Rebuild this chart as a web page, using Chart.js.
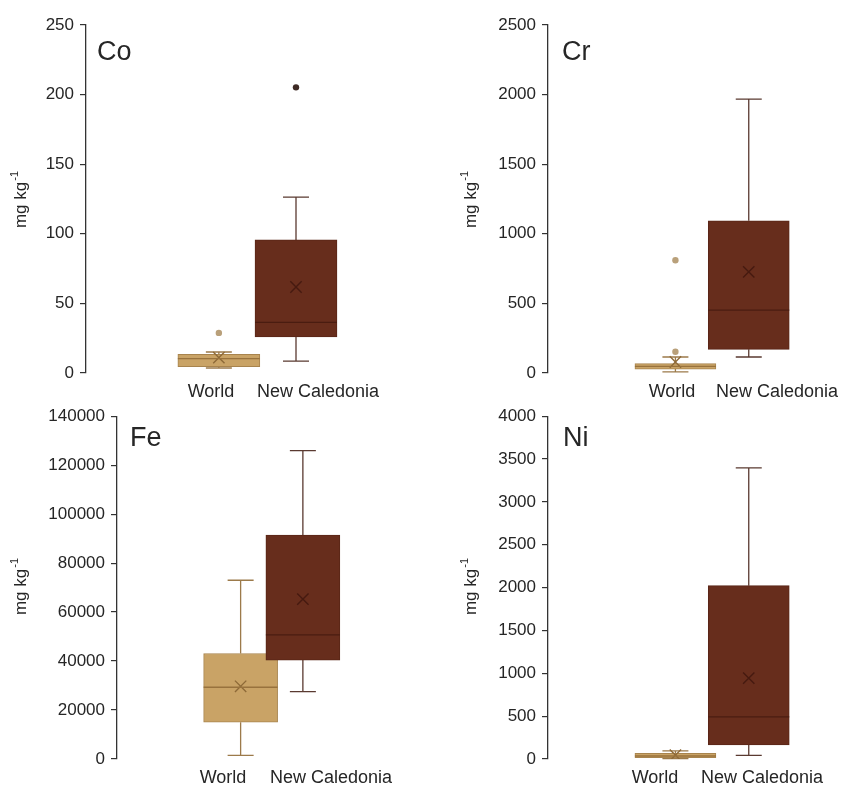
<!DOCTYPE html>
<html><head><meta charset="utf-8">
<script src="https://cdn.jsdelivr.net/npm/chart.js@4.4.1/dist/chart.umd.min.js"></script>
<style>
html,body{margin:0;padding:0;background:#fff;width:847px;height:787px;overflow:hidden}
canvas{position:absolute}
</style></head><body>
<canvas id="c0" width="420" height="400" style="left:0;top:0"></canvas>
<canvas id="c1" width="427" height="400" style="left:420px;top:0"></canvas>
<canvas id="c2" width="420" height="387" style="left:0;top:400px"></canvas>
<canvas id="c3" width="427" height="387" style="left:420px;top:400px"></canvas>
<script>
// ---- data ----
const categories = ['World', 'New Caledonia'];
const unitLabel = 'mg kg';
const unitSup = '-1';

// Co
const coLow = [3.6, 8.6];
const coQ1 = [4.6, 25.9];
const coMedian = [10.3, 36.4];
const coQ3 = [13.4, 95.6];
const coHigh = [15.1, 126.3];
const coMean = [11.0, 61.8];
const coOutWorld = [28.8];
const coOutNC = [205.2];
const coTicks = [0, 50, 100, 150, 200, 250];

// Cr
const crLow = [8, 115];
const crQ1 = [28, 170];
const crMedian = [48, 451];
const crQ3 = [67, 1093];
const crHigh = [115, 1968];
const crMean = [79, 726];
const crOutWorld = [153, 810];
const crOutNC = [];
const crTicks = [0, 500, 1000, 1500, 2000, 2500];

// Fe
const feLow = [1500, 27500];
const feQ1 = [15000, 40400];
const feMedian = [29300, 50700];
const feQ3 = [43100, 91400];
const feHigh = [73000, 125900];
const feMean = [29700, 65300];
const feOutWorld = [];
const feOutNC = [];
const feTicks = [0, 20000, 40000, 60000, 80000, 100000, 120000, 140000];

// Ni
const niLow = [5, 42];
const niQ1 = [15, 165];
const niMedian = [35, 491];
const niQ3 = [65, 2023];
const niHigh = [95, 3397];
const niMean = [45, 944];
const niOutWorld = [];
const niOutNC = [];
const niTicks = [0, 500, 1000, 1500, 2000, 2500, 3000, 3500, 4000];

// ---- styles ----
const FONT = "'Liberation Sans', Arial, sans-serif";
const TXT = '#262626';
const fills = ['#C9A366', '#672D1C'];
const borders = ['#A8844E', '#5A2617'];
const medianCol = ['#98723D', '#4A1C10'];
const meanCol = ['#8E6A38', '#461A10'];
const whiskerCol = ['#9C7A4A', '#5A3A31'];
const outCol = ['#B9A07A', '#3E2A25'];

function makePanel(id, name, s, ticks, L) {
  const cw = L.cw, ch = L.ch;
  const padR = 10;
  const chartLeft = L.axisX - L.cl;
  const chartRight = cw - padR;
  const unit = L.p2 - L.p1;
  const xmin = 1 - (L.p1 - L.axisX) / unit;
  const xmax = xmin + (chartRight - chartLeft) / unit;

  const outPts = [];
  const outColors = [];
  s.outW.forEach(v => { outPts.push({x: 1, y: v}); outColors.push(outCol[0]); });
  s.outN.forEach(v => { outPts.push({x: 2, y: v}); outColors.push(outCol[1]); });

  const boxPlugin = {
    id: 'boxparts' + id,
    beforeDatasetsDraw(chart) {
      const ctx = chart.ctx, xs = chart.scales.x, ys = chart.scales.y;
      ctx.save();
      ctx.lineWidth = 1.3;
      categories.forEach((c, i) => {
        const px = xs.getPixelForValue(i + 1);
        ctx.strokeStyle = whiskerCol[i];
        ctx.beginPath();
        ctx.moveTo(px, ys.getPixelForValue(s.q3[i]));
        ctx.lineTo(px, ys.getPixelForValue(s.high[i]));
        ctx.moveTo(px, ys.getPixelForValue(s.q1[i]));
        ctx.lineTo(px, ys.getPixelForValue(s.low[i]));
        const cap = 13;
        ctx.moveTo(px - cap, ys.getPixelForValue(s.high[i]));
        ctx.lineTo(px + cap, ys.getPixelForValue(s.high[i]));
        ctx.moveTo(px - cap, ys.getPixelForValue(s.low[i]));
        ctx.lineTo(px + cap, ys.getPixelForValue(s.low[i]));
        ctx.stroke();
      });
      ctx.restore();
    },
    afterDatasetsDraw(chart) {
      const ctx = chart.ctx, xs = chart.scales.x, ys = chart.scales.y;
      ctx.save();
      ctx.lineWidth = 1.3;
      categories.forEach((c, i) => {
        const px = xs.getPixelForValue(i + 1);
        const py = ys.getPixelForValue(s.median[i]);
        ctx.strokeStyle = medianCol[i];
        ctx.beginPath();
        ctx.moveTo(px - L.boxW / 2, py);
        ctx.lineTo(px + L.boxW / 2, py);
        ctx.stroke();
      });
      ctx.restore();
    },
    afterDraw(chart) {
      const ctx = chart.ctx;
      ctx.save();
      ctx.fillStyle = TXT;
      // panel letter
      ctx.font = '27px ' + FONT;
      ctx.textAlign = 'left';
      ctx.textBaseline = 'alphabetic';
      ctx.fillText(name, L.letterX - L.cl, L.letterY - L.ct);
      // category labels
      ctx.font = '18px ' + FONT;
      ctx.textAlign = 'center';
      ctx.textBaseline = 'middle';
      categories.forEach((c, i) => ctx.fillText(c, L.labelX[i] - L.cl, L.labelY - L.ct));
      // y title with superscript
      ctx.translate(L.titleX - L.cl, L.titleY - L.ct);
      ctx.rotate(-Math.PI / 2);
      ctx.font = '17px ' + FONT;
      const w1 = ctx.measureText(unitLabel).width;
      ctx.font = '11px ' + FONT;
      const w2 = ctx.measureText(unitSup).width;
      const start = -(w1 + w2) / 2;
      ctx.textAlign = 'left';
      ctx.textBaseline = 'middle';
      ctx.font = '17px ' + FONT;
      ctx.fillText(unitLabel, start, 0);
      ctx.font = '11px ' + FONT;
      ctx.fillText(unitSup, start + w1 + 1, -6);
      ctx.restore();
    }
  };

  new Chart(document.getElementById(id), {
    type: 'bar',
    data: {
      datasets: [
        {
          type: 'scatter',
          order: 0,
          data: s.mean.map((v, i) => ({x: i + 1, y: v})),
          pointStyle: 'crossRot',
          radius: 8,
          borderWidth: 1.4,
          borderColor: meanCol,
          backgroundColor: meanCol
        },
        {
          type: 'scatter',
          order: 0,
          data: outPts,
          pointStyle: 'circle',
          radius: 3.2,
          borderWidth: 0,
          backgroundColor: outColors,
          borderColor: outColors
        },
        {
          type: 'bar',
          order: 2,
          data: s.q1.map((v, i) => ({x: i + 1, y: [v, s.q3[i]]})),
          backgroundColor: fills,
          borderColor: borders,
          borderWidth: 1,
          borderSkipped: false,
          barThickness: L.boxW
        }
      ]
    },
    options: {
      responsive: false,
      animation: false,
      events: [],
      layout: { padding: { left: 0, right: padR, top: L.top - L.ct, bottom: L.ct + ch - L.bottom } },
      plugins: { legend: { display: false }, tooltip: { enabled: false } },
      scales: {
        x: { type: 'linear', display: false, min: xmin, max: xmax },
        y: {
          min: 0,
          max: ticks[ticks.length - 1],
          afterBuildTicks: sc => { sc.ticks = ticks.map(v => ({value: v})); },
          afterFit: sc => { sc.width = chartLeft; },
          ticks: { font: { family: FONT, size: 17 }, color: TXT, padding: 6, callback: v => String(v) },
          grid: { display: true, drawOnChartArea: false, drawTicks: true, tickLength: 6, color: '#333', lineWidth: 1.2 },
          border: { display: true, color: '#333', width: 1.3 }
        }
      }
    },
    plugins: [boxPlugin]
  });
}

makePanel('c0', 'Co',
  {low: coLow, q1: coQ1, median: coMedian, q3: coQ3, high: coHigh, mean: coMean, outW: coOutWorld, outN: coOutNC},
  coTicks,
  {cl: 0, ct: 0, cw: 420, ch: 400, axisX: 86, p1: 214, p2: 304, top: 25, bottom: 373, boxW: 82,
   labelX: [211, 318], labelY: 392, letterX: 97, letterY: 60, titleX: 21, titleY: 200});

makePanel('c1', 'Cr',
  {low: crLow, q1: crQ1, median: crMedian, q3: crQ3, high: crHigh, mean: crMean, outW: crOutWorld, outN: crOutNC},
  crTicks,
  {cl: 420, ct: 0, cw: 427, ch: 400, axisX: 548, p1: 672, p2: 760, top: 25, bottom: 373, boxW: 81,
   labelX: [672, 777], labelY: 392, letterX: 562, letterY: 60, titleX: 471, titleY: 200});

makePanel('c2', 'Fe',
  {low: feLow, q1: feQ1, median: feMedian, q3: feQ3, high: feHigh, mean: feMean, outW: feOutWorld, outN: feOutNC},
  feTicks,
  {cl: 0, ct: 400, cw: 420, ch: 387, axisX: 117, p1: 233, p2: 316, top: 412, bottom: 759, boxW: 74,
   labelX: [223, 331], labelY: 778, letterX: 130, letterY: 446, titleX: 21, titleY: 587});

makePanel('c3', 'Ni',
  {low: niLow, q1: niQ1, median: niMedian, q3: niQ3, high: niHigh, mean: niMean, outW: niOutWorld, outN: niOutNC},
  niTicks,
  {cl: 420, ct: 400, cw: 427, ch: 387, axisX: 548, p1: 672, p2: 760, top: 412, bottom: 759, boxW: 81,
   labelX: [655, 762], labelY: 778, letterX: 563, letterY: 446, titleX: 471, titleY: 587});
</script>
</body></html>
